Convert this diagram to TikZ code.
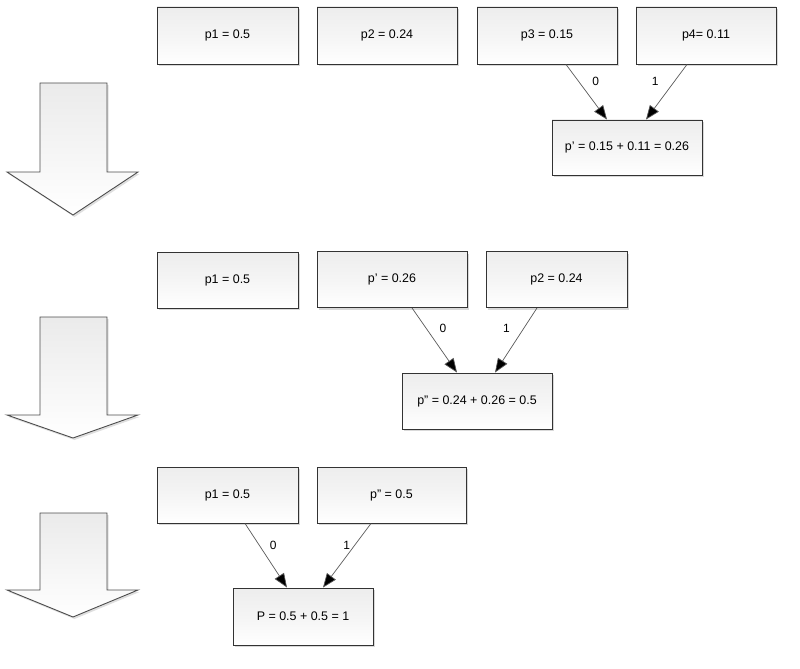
\documentclass[tikz,border=0pt]{standalone}
\usepackage{fontspec}
\setmainfont{Liberation Sans}
\usetikzlibrary{arrows.meta,shadows,calc}
\begin{document}
\begin{tikzpicture}[x=1bp,y=-1bp,
  pbox/.style={draw=black!80, line width=0.9bp, rectangle, inner sep=0pt,
    top color=gray!14, bottom color=white, middle color=gray!8,
    drop shadow={opacity=0.3, shadow xshift=1.5bp, shadow yshift=-2bp},
    font=\fontsize{12.5}{14}\selectfont, text=black},
  link/.style={draw=black!65, line width=0.7bp, -{Triangle[length=14bp,width=11bp,fill=black]}},
  lab/.style={font=\fontsize{12}{14}\selectfont, text=black},
  bigarrow/.style={draw=black!70, line width=0.9bp, top color=gray!16, bottom color=white,
    drop shadow={opacity=0.25, shadow xshift=1.5bp, shadow yshift=-2bp}}
]
\useasboundingbox (0,0) rectangle (800,669);

% big arrows
\path[bigarrow] (40,83) -- (107,83) -- (107,172) -- (138,172) -- (73,215) -- (7,172) -- (40,172) -- cycle;
\path[bigarrow] (40,317) -- (107,317) -- (107,415) -- (138,415) -- (73,438) -- (7,415) -- (40,415) -- cycle;
\path[bigarrow] (40,513) -- (107,513) -- (107,590) -- (138,590) -- (73,617) -- (7,590) -- (40,590) -- cycle;

% row 1
\node[pbox, minimum width=141bp, minimum height=57bp] (a1) at (227.5,35.5) {p1 = 0.5};
\node[pbox, minimum width=140bp, minimum height=57bp] (a2) at (387,35.5) {p2 = 0.24};
\node[pbox, minimum width=140bp, minimum height=57bp] (a3) at (547,35.5) {p3 = 0.15};
\node[pbox, minimum width=140bp, minimum height=57bp] (a4) at (706,35.5) {p4= 0.11};
\node[pbox, minimum width=150bp, minimum height=55bp] (ap) at (627,147.5) {p' = 0.15 + 0.11 = 0.26};
\draw[link] ([xshift=19bp]a3.south) -- node[lab, pos=0.3, xshift=17.5bp] {0} ([xshift=-20bp]ap.north);
\draw[link] ([xshift=-19bp]a4.south) -- node[lab, pos=0.3, xshift=-19.5bp] {1} ([xshift=19bp]ap.north);

% row 2
\node[pbox, minimum width=141bp, minimum height=56bp] (b1) at (227.5,280) {p1 = 0.5};
\node[pbox, minimum width=150bp, minimum height=56bp] (bp) at (392,279.5) {p' = 0.26};
\node[pbox, minimum width=141bp, minimum height=56bp] (b2) at (556.5,279.5) {p2 = 0.24};
\node[pbox, minimum width=150bp, minimum height=56bp] (bpp) at (477,401) {p'' = 0.24 + 0.26 = 0.5};
\draw[link] ([xshift=20bp]bp.south) -- node[lab, pos=0.32, xshift=16.5bp] {0} ([xshift=-20bp]bpp.north);
\draw[link] ([xshift=-19.5bp]b2.south) -- node[lab, pos=0.32, xshift=-17bp] {1} ([xshift=18bp]bpp.north);

% row 3
\node[pbox, minimum width=141bp, minimum height=56bp] (c1) at (227.5,495) {p1 = 0.5};
\node[pbox, minimum width=149bp, minimum height=56bp] (cpp) at (391.5,495) {p'' = 0.5};
\node[pbox, minimum width=140bp, minimum height=57bp] (cP) at (303,616.5) {P = 0.5 + 0.5 = 1};
\draw[link] ([xshift=17.5bp]c1.south) -- node[lab, pos=0.34, xshift=14bp] {0} ([xshift=-16bp]cP.north);
\draw[link] ([xshift=-20.5bp]cpp.south) -- node[lab, pos=0.34, xshift=-8bp] {1} ([xshift=20bp]cP.north);
\end{tikzpicture}
\end{document}
